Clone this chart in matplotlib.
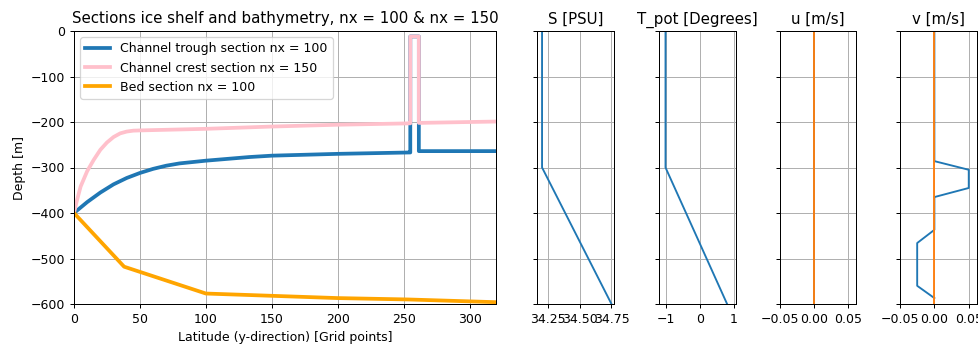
import matplotlib.pyplot as plt
import numpy as np

# ice shelf draft / bed along the section (grid points, depth in m)
lat_trough = [0, 10, 20, 30, 40, 50, 60, 70, 80, 100, 133, 150, 200, 254, 255, 255, 261.5, 261.5, 320]
ice_trough = [-400, -376, -355, -337, -323, -312, -303, -296, -291, -285, -277, -274, -270, -267, -267, -12, -12, -264, -264]

lat_crest = [0, 2, 5, 10, 15, 20, 25, 30, 35, 40, 45, 50, 100, 150, 200, 254, 255, 255, 261.5, 261.5, 320]
ice_crest = [-400, -375, -342, -308, -283, -261, -245, -233, -225, -221, -219, -218.5, -215, -210, -206, -203, -203, -12, -12, -202, -199]

lat_bed = [0, 38, 100, 150, 200, 253, 320]
bed = [-400, -518, -577, -582, -587, -590, -596]

# boundary profiles
z_prof = [0, -300, -600]
salt = [34.2, 34.2, 34.75]
temp = [-1.0, -1.0, 0.8]
z_uv = [0, -600]
u_prof = [0.0, 0.0]
z_v = [0, -286, -305, -345, -365, -437, -466, -560, -587]
v_prof = [0.0, 0.0, 0.05, 0.05, 0.0, 0.0, -0.025, -0.025, 0.0]

W, H = 978, 345
DPI = 90
fig = plt.figure(figsize=(W/DPI, H/DPI), dpi=DPI)

def box(x0, x1, y0=31, y1=304):
    return [x0/W, 1-y1/H, (x1-x0)/W, (y1-y0)/H]

ax = fig.add_axes(box(74, 496))
ax.plot(lat_trough, ice_trough, lw=3, label='Channel trough section nx = 100')
ax.plot(lat_crest, ice_crest, lw=3, color='pink', label='Channel crest section nx = 150')
ax.plot(lat_bed, bed, lw=3, color='orange', label='Bed section nx = 100')
ax.set_xlim(0, 320)
ax.set_ylim(-600, 0)
ax.grid()
ax.legend(loc='upper left')
ax.set_title('Sections ice shelf and bathymetry, nx = 100 & nx = 150')
ax.set_xlabel('Latitude (y-direction) [Grid points]')
ax.set_ylabel('Depth [m]')

axS = fig.add_axes(box(537, 614), sharey=ax)
axS.plot(salt, z_prof)
axS.set_xlim(34.16, 34.77)
axS.set_xticks([34.25, 34.5, 34.75])
axS.set_title('S [PSU]')

axT = fig.add_axes(box(659, 736), sharey=ax)
axT.plot(temp, z_prof)
axT.set_xlim(-1.19, 1.06)
axT.set_title('T_pot [Degrees]')

axU = fig.add_axes(box(780, 856), sharey=ax)
axU.plot(u_prof, z_uv)
axU.plot(u_prof, z_uv)
axU.set_xlim(-0.05, 0.062)
axU.set_title('u [m/s]')

axV = fig.add_axes(box(900, 977), sharey=ax)
axV.plot(v_prof, z_v)
axV.plot(u_prof, z_uv)
axV.set_xlim(-0.05, 0.062)
axV.set_title('v [m/s]')

for a in (axS, axT, axU, axV):
    a.grid()
    a.tick_params(labelleft=False)

fig.savefig('out.png', dpi=DPI)
